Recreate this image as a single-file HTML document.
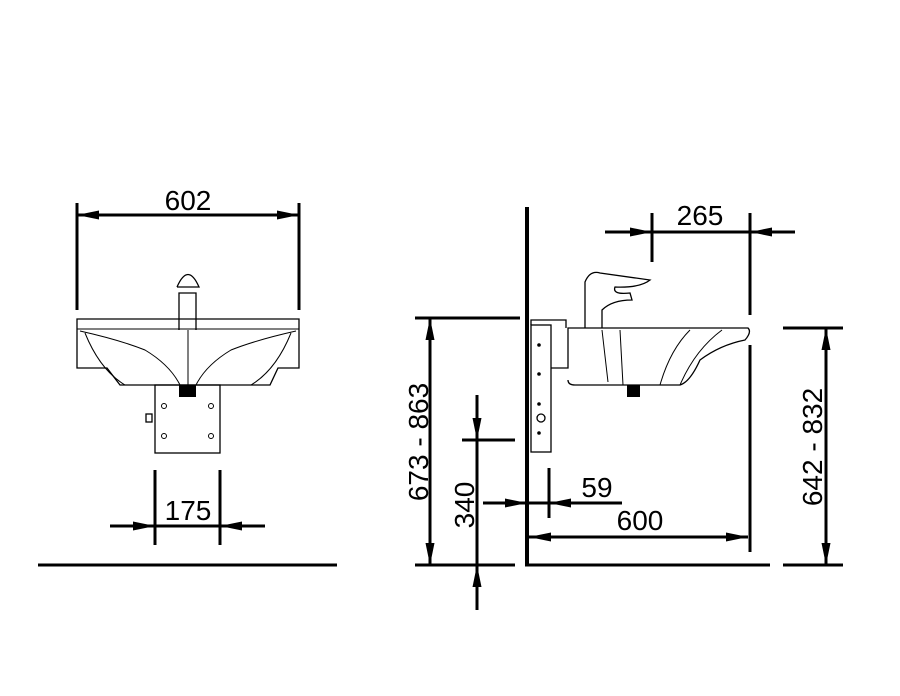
<!DOCTYPE html>
<html><head><style>body{margin:0;background:#fff}svg{display:block}text{font-family:"Liberation Sans",sans-serif;font-size:28px;fill:#000}</style></head><body>
<svg width="900" height="696" viewBox="0 0 900 696" xmlns="http://www.w3.org/2000/svg">
<defs><marker id="a" viewBox="0 0 10 10" preserveAspectRatio="none" refX="10" refY="5" markerWidth="22" markerHeight="10" markerUnits="userSpaceOnUse" orient="auto"><path d="M0,0.5 L10,5 L0,9.5Z" fill="#000"/></marker></defs>
<g stroke="#000" fill="none">
<!-- left view -->
<line x1="77" y1="203" x2="77" y2="310" stroke-width="3"/>
<line x1="299" y1="203" x2="299" y2="310" stroke-width="3"/>
<line x1="110" y1="215" x2="77" y2="215" stroke-width="3" marker-end="url(#a)"/>
<line x1="77" y1="215" x2="299" y2="215" stroke-width="3"/>
<line x1="266" y1="215" x2="299" y2="215" stroke-width="3" marker-end="url(#a)"/>
<path d="M77,319 H299 V368 H278 L270,385 H120 L107,368 H77Z" stroke-width="1.3"/>
<line x1="77" y1="329" x2="299" y2="329" stroke-width="1"/>
<path d="M80,331 Q120,340 145,350 Q170,365 180,385 M296,331 Q256,340 231,350 Q206,365 196,385 M85,333 Q100,370 125,385 M291,333 Q276,370 251,385 M188,330 V385" stroke-width="1"/>
<path d="M179,330 V293 H196 V330 M177,287 Q188,262 199,287 H177" stroke-width="1.3"/>
<rect x="179" y="385" width="17" height="12" fill="#000" stroke="none"/>
<rect x="155" y="385" width="65" height="68" stroke-width="1.3"/>
<circle cx="164" cy="406" r="2.5"/><circle cx="211" cy="406" r="2.5"/><circle cx="164" cy="436" r="2.5"/><circle cx="211" cy="436" r="2.5"/>
<rect x="146" y="414" width="6" height="8" stroke-width="1.3"/>
<line x1="155" y1="470" x2="155" y2="545" stroke-width="3"/>
<line x1="220" y1="470" x2="220" y2="545" stroke-width="3"/>
<line x1="110" y1="526" x2="155" y2="526" stroke-width="3" marker-end="url(#a)"/>
<line x1="155" y1="526" x2="220" y2="526" stroke-width="3"/>
<line x1="265" y1="526" x2="220" y2="526" stroke-width="3" marker-end="url(#a)"/>
<line x1="38" y1="565" x2="337" y2="565" stroke-width="3"/>
<!-- right view -->
<line x1="527" y1="207" x2="527" y2="566" stroke-width="4"/>
<line x1="525" y1="565" x2="770" y2="565" stroke-width="3"/>
<line x1="652" y1="213" x2="652" y2="262" stroke-width="3"/>
<line x1="750" y1="213" x2="750" y2="315" stroke-width="3"/>
<line x1="750" y1="345" x2="750" y2="552" stroke-width="3"/>
<line x1="605" y1="232" x2="652" y2="232" stroke-width="3" marker-end="url(#a)"/>
<line x1="652" y1="232" x2="750" y2="232" stroke-width="3"/>
<line x1="795" y1="232" x2="750" y2="232" stroke-width="3" marker-end="url(#a)"/>
<line x1="415" y1="318" x2="520" y2="318" stroke-width="3"/>
<line x1="415" y1="565" x2="515" y2="565" stroke-width="3"/>
<line x1="430" y1="440" x2="430" y2="318" stroke-width="3" marker-end="url(#a)"/>
<line x1="430" y1="440" x2="430" y2="565" stroke-width="3" marker-end="url(#a)"/>
<line x1="462" y1="440" x2="515" y2="440" stroke-width="3"/>
<line x1="477" y1="395" x2="477" y2="440" stroke-width="3" marker-end="url(#a)"/>
<line x1="477" y1="440" x2="477" y2="565" stroke-width="3"/>
<line x1="477" y1="610" x2="477" y2="565" stroke-width="3" marker-end="url(#a)"/>
<line x1="483" y1="503" x2="527" y2="503" stroke-width="3" marker-end="url(#a)"/>
<line x1="527" y1="503" x2="549" y2="503" stroke-width="3"/>
<line x1="622" y1="503" x2="549" y2="503" stroke-width="3" marker-end="url(#a)"/>
<line x1="549" y1="468" x2="549" y2="518" stroke-width="3"/>
<line x1="640" y1="537" x2="529" y2="537" stroke-width="3" marker-end="url(#a)"/>
<line x1="640" y1="537" x2="748" y2="537" stroke-width="3" marker-end="url(#a)"/>
<line x1="783" y1="328" x2="843" y2="328" stroke-width="3"/>
<line x1="783" y1="565" x2="843" y2="565" stroke-width="3"/>
<line x1="826" y1="447" x2="826" y2="328" stroke-width="3" marker-end="url(#a)"/>
<line x1="826" y1="447" x2="826" y2="565" stroke-width="3" marker-end="url(#a)"/>
<rect x="531" y="325" width="20" height="127" stroke-width="1.3"/>
<path d="M531,325 V320 H566 V328" stroke-width="1.3"/>
<circle cx="539" cy="345" r="1.3" fill="#000"/><circle cx="539" cy="374" r="1.3" fill="#000"/><circle cx="539" cy="404" r="1.3" fill="#000"/><circle cx="541" cy="418" r="4" stroke-width="1.3"/><circle cx="539" cy="433" r="1.3" fill="#000"/>
<path d="M551,368 H568 V328 H748 Q752,332 745,340 Q720,345 700,360 Q690,382 680,385 H575 Q568,385 568,380" stroke-width="1.3"/>
<path d="M690,330 Q670,350 660,385 M722,330 Q695,350 680,385 M602,330 L608,382 M620,330 L623,385" stroke-width="1"/>
<rect x="627" y="385" width="13" height="12" fill="#000" stroke="none"/>
<path d="M585,328 V282 Q590,270 600,273 L650,280 Q640,288 615,287 Q612,295 630,293 L632,300 Q612,300 602,310 V328" stroke-width="1.3"/>
</g>
<text x="188" y="210" text-anchor="middle">602</text>
<text x="188" y="520" text-anchor="middle">175</text>
<text x="700" y="225" text-anchor="middle">265</text>
<text x="597" y="497" text-anchor="middle">59</text>
<text x="640" y="530" text-anchor="middle">600</text>
<text transform="translate(428,442) rotate(-90)" text-anchor="middle">673 - 863</text>
<text transform="translate(474,505) rotate(-90)" text-anchor="middle">340</text>
<text transform="translate(822,447) rotate(-90)" text-anchor="middle">642 - 832</text>
</svg>
</body></html>
